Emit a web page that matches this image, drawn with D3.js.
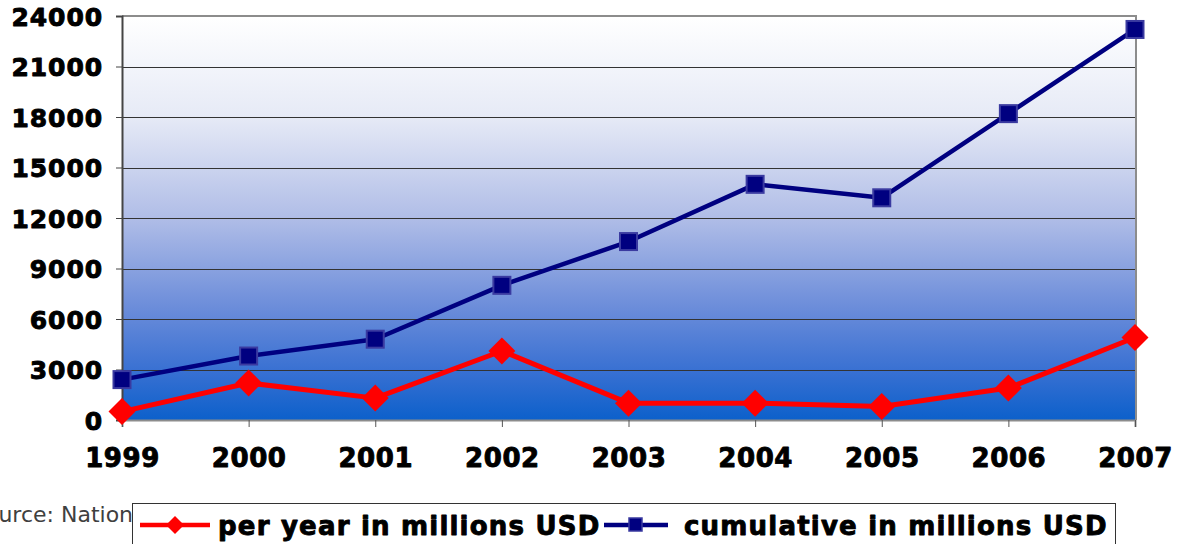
<!DOCTYPE html>
<html>
<head>
<meta charset="utf-8">
<script src="https://cdn.jsdelivr.net/npm/d3@7"></script>
<style>
  html, body { margin: 0; padding: 0; background: #fff; }
  svg { display: block; }
</style>
</head>
<body>
<svg id="chart" width="1182" height="544"></svg>
<script>
const years = ["1999","2000","2001","2002","2003","2004","2005","2006","2007"];
const perYear = [500, 2200, 1300, 4100, 1000, 1000, 800, 1900, 4900];
const cumulative = [2400, 3800, 4800, 8000, 10600, 14000, 13200, 18200, 23200];
const yTicks = [0, 3000, 6000, 9000, 12000, 15000, 18000, 21000, 24000];
const seriesNames = ["per year in millions USD", "cumulative in millions USD"];
const sourceText = "Source: National Bureau of Statistics";

const svg = d3.select("#chart");
const m = {left: 122, right: 1136, top: 16, bottom: 420};

const x = d3.scalePoint().domain(years).range([m.left, m.right - 1]);
const y = d3.scaleLinear().domain([0, 24000]).range([m.bottom, m.top]);

const defs = svg.append("defs");
const grad = defs.append("linearGradient").attr("id", "bg").attr("x1", 0).attr("y1", 0).attr("x2", 0).attr("y2", 1);
[["0%", "#ffffff"], ["25%", "#e6eaf6"], ["50%", "#b0bde7"], ["72%", "#6c8dda"], ["88%", "#3870d2"], ["100%", "#0c60cb"]]
  .forEach(([o, c]) => grad.append("stop").attr("offset", o).attr("stop-color", c));

// plot background
svg.append("rect").attr("x", m.left).attr("y", m.top)
  .attr("width", m.right - m.left).attr("height", m.bottom - m.top)
  .attr("fill", "url(#bg)");

// gridlines
svg.append("g").selectAll("line").data(yTicks.filter(d => d > 0 && d < 24000)).join("line")
  .attr("x1", m.left).attr("x2", m.right)
  .attr("y1", d => Math.round(y(d)) + 0.5).attr("y2", d => Math.round(y(d)) + 0.5)
  .attr("stroke", "#333").attr("stroke-width", 1);

// top & right border
svg.append("path")
  .attr("d", `M${m.left},${m.top} H${m.right} V${m.bottom}`)
  .attr("fill", "none").attr("stroke", "#8c8c8c").attr("stroke-width", 2);

const boldText = (sel, size, ls) => sel
  .attr("font-family", "DejaVu Sans, Verdana, sans-serif")
  .attr("font-weight", "bold").attr("font-size", size)
  .attr("letter-spacing", ls)
  .attr("fill", "#000").attr("stroke", "#000").attr("stroke-width", 0.9)
  .attr("stroke-linejoin", "round");

// y axis
const yAxis = svg.append("g").attr("transform", `translate(${m.left},0)`)
  .call(d3.axisLeft(y).tickValues(yTicks).tickSize(6).tickPadding(13).tickFormat(d3.format("d")));
yAxis.select(".domain").attr("stroke", "#444").attr("stroke-width", 2);
yAxis.selectAll(".tick line").attr("stroke", "#444");
yAxis.selectAll("text").call(boldText, 25, 0.9).attr("dy", "0.36em");

// x axis
const xAxis = svg.append("g").attr("transform", `translate(0,${m.bottom})`)
  .call(d3.axisBottom(x).tickSize(7).tickPadding(22));
xAxis.select(".domain").attr("stroke", "#8c8c8c").attr("stroke-width", 2);
xAxis.selectAll(".tick line").attr("stroke", "#555");
xAxis.selectAll("text").call(boldText, 26, 0.6);

const line = d3.line().x((d, i) => x(years[i])).y(d => y(d));

// cumulative series
svg.append("path").datum(cumulative).attr("d", line)
  .attr("fill", "none").attr("stroke", "#000080").attr("stroke-width", 4.5).attr("stroke-linejoin", "round");
svg.append("g").selectAll("rect").data(cumulative).join("rect")
  .attr("x", (d, i) => x(years[i]) - 8.5).attr("y", d => y(d) - 8.5)
  .attr("width", 17).attr("height", 17)
  .attr("fill", "#000080").attr("stroke", "#3a3aa0").attr("stroke-width", 2);

// per year series
svg.append("path").datum(perYear).attr("d", line)
  .attr("fill", "none").attr("stroke", "#ff0000").attr("stroke-width", 5).attr("stroke-linejoin", "round");
const diamond = (cx, cy, r) => `M${cx},${cy - r} L${cx + r},${cy} L${cx},${cy + r} L${cx - r},${cy} Z`;
svg.append("g").selectAll("path").data(perYear).join("path")
  .attr("d", (d, i) => diamond(x(years[i]), y(d), 13.5))
  .attr("fill", "#ff0000");

// source text (partly hidden by legend, as in the original)
svg.append("text").attr("x", -29).attr("y", 522)
  .attr("font-family", "DejaVu Sans, Verdana, sans-serif").attr("font-size", 22)
  .attr("fill", "#404040").text(sourceText);

// legend
const lg = svg.append("g");
lg.append("rect").attr("x", 132.5).attr("y", 503.5).attr("width", 983).attr("height", 50)
  .attr("fill", "#fff").attr("stroke", "#333").attr("stroke-width", 1);
// item 1
lg.append("line").attr("x1", 140).attr("x2", 210).attr("y1", 525).attr("y2", 525)
  .attr("stroke", "#ff0000").attr("stroke-width", 4.5);
lg.append("path").attr("d", diamond(175, 525, 9)).attr("fill", "#ff0000");
lg.append("text").attr("x", 218).attr("y", 535).call(boldText, 26, 1.2).text(seriesNames[0]);
// item 2
lg.append("line").attr("x1", 604).attr("x2", 668).attr("y1", 525).attr("y2", 525)
  .attr("stroke", "#000080").attr("stroke-width", 4.5);
lg.append("rect").attr("x", 629).attr("y", 518).attr("width", 13).attr("height", 13)
  .attr("fill", "#000080").attr("stroke", "#3a3aa0").attr("stroke-width", 1.5);
lg.append("text").attr("x", 684).attr("y", 535).call(boldText, 26, 1.2).text(seriesNames[1]);
</script>
</body>
</html>
